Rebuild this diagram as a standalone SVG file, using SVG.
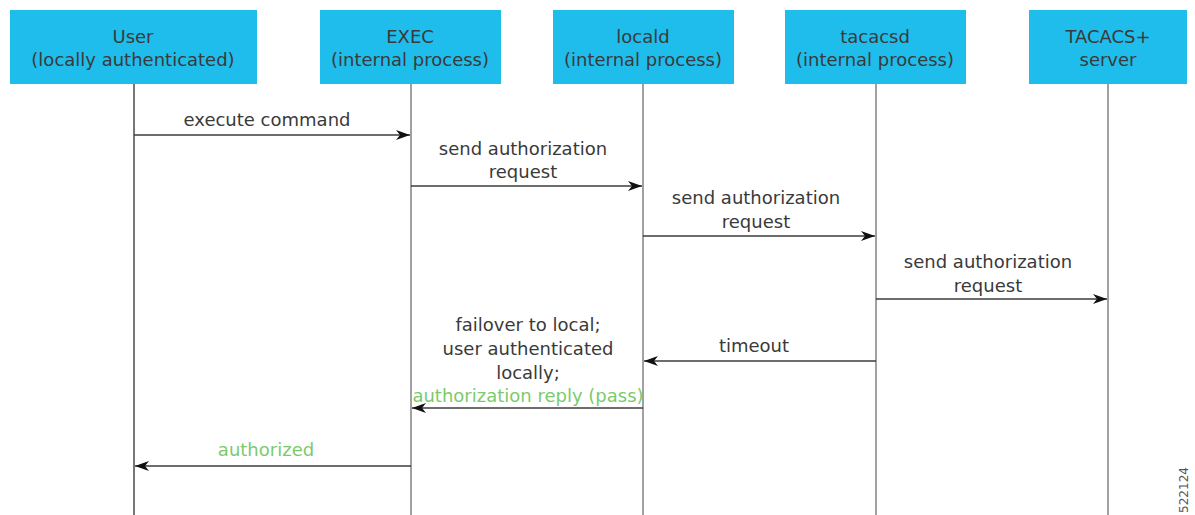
<svg xmlns="http://www.w3.org/2000/svg" width="1195" height="515" viewBox="0 0 1195 515">
<style>
  .box { fill: #1fbdeb; }
  .life { stroke: #8a8a8a; stroke-width: 1.6; fill: none; }
  .t { font-family: "DejaVu Sans", "Liberation Sans", sans-serif; font-size: 18px; fill: #3a3a3a; text-anchor: middle; }
  .g { fill: #7acb6c; }
  .arrow { stroke: #3c3c3c; stroke-width: 1.5; fill: none; marker-end: url(#ah); }
  .id { font-family: "DejaVu Sans", "Liberation Sans", sans-serif; font-size: 12px; fill: #555; text-anchor: middle; }
</style>
<defs>
  <marker id="ah" markerUnits="userSpaceOnUse" markerWidth="16" markerHeight="12" refX="14" refY="5" orient="auto">
    <path d="M0,0 L14,5 L0,10 L4,5 Z" fill="#111"/>
  </marker>
</defs>
<rect width="1195" height="515" fill="#ffffff"/>

<g id="node-user">
  <line class="life" x1="134" y1="84" x2="134" y2="515" style="stroke:#555"/>
  <rect class="box" x="10" y="10" width="247" height="74"/>
  <text class="t" x="133" y="43">User</text>
  <text class="t" x="133" y="66">(locally authenticated)</text>
</g>
<g id="node-exec">
  <line class="life" x1="411" y1="84" x2="411" y2="515"/>
  <rect class="box" x="320" y="10" width="181" height="74"/>
  <text class="t" x="410" y="43">EXEC</text>
  <text class="t" x="410" y="66">(internal process)</text>
</g>
<g id="node-locald">
  <line class="life" x1="643" y1="84" x2="643" y2="515"/>
  <rect class="box" x="553" y="10" width="181" height="74"/>
  <text class="t" x="643" y="43">locald</text>
  <text class="t" x="643" y="66">(internal process)</text>
</g>
<g id="node-tacacsd">
  <line class="life" x1="876" y1="84" x2="876" y2="515"/>
  <rect class="box" x="785" y="10" width="181" height="74"/>
  <text class="t" x="875" y="43">tacacsd</text>
  <text class="t" x="875" y="66">(internal process)</text>
</g>
<g id="node-tacacs-server">
  <line class="life" x1="1108" y1="84" x2="1108" y2="515"/>
  <rect class="box" x="1029" y="10" width="158" height="74"/>
  <text class="t" x="1108" y="43">TACACS+</text>
  <text class="t" x="1108" y="66">server</text>
</g>

<g id="connectors">
  <line class="arrow" x1="134" y1="135" x2="410" y2="135"/>
  <line class="arrow" x1="411" y1="186" x2="642" y2="186"/>
  <line class="arrow" x1="643" y1="236" x2="875" y2="236"/>
  <line class="arrow" x1="876" y1="299" x2="1107" y2="299"/>
  <line class="arrow" x1="876" y1="361" x2="644" y2="361"/>
  <line class="arrow" x1="643" y1="408" x2="412" y2="408"/>
  <line class="arrow" x1="411" y1="466" x2="135" y2="466"/>

  <text class="t" x="267" y="126">execute command</text>
  <text class="t" x="523" y="155">send authorization</text>
  <text class="t" x="523" y="178">request</text>
  <text class="t" x="756" y="204">send authorization</text>
  <text class="t" x="756" y="228">request</text>
  <text class="t" x="988" y="268">send authorization</text>
  <text class="t" x="988" y="292">request</text>
  <text class="t" x="754" y="352">timeout</text>
  <text class="t" x="528" y="331">failover to local;</text>
  <text class="t" x="528" y="355">user authenticated</text>
  <text class="t" x="528" y="379">locally;</text>
  <text class="t g" x="528" y="402">authorization reply (pass)</text>
  <text class="t g" x="266" y="456">authorized</text>
</g>

<text class="id" transform="translate(1188,490) rotate(-90)">522124</text>
</svg>
